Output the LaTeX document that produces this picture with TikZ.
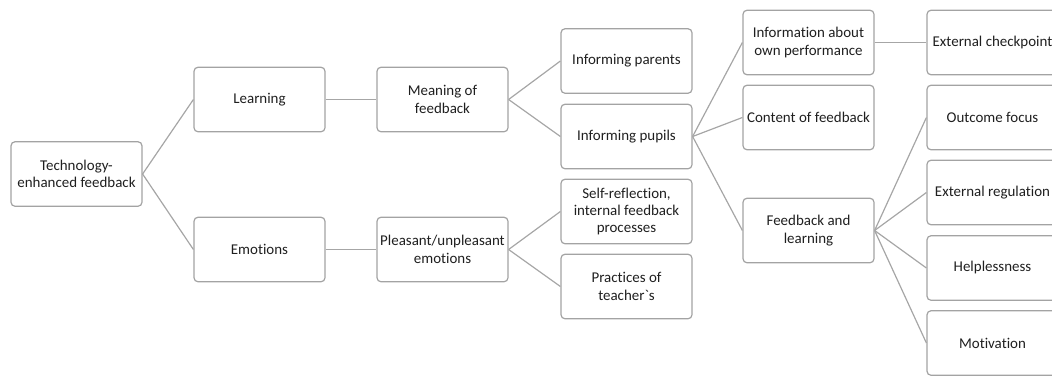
\documentclass[tikz,border=0pt]{standalone}
\usepackage{fontspec}
\setmainfont{Carlito}[Ligatures={NoCommon}]
\definecolor{boxline}{HTML}{A3A3A3}
\definecolor{linkline}{HTML}{A6A6A6}
\definecolor{txt}{HTML}{1F1F1F}
\begin{document}
\begin{tikzpicture}[x=1bp,y=-1bp,
  item/.style={draw=boxline, line width=1.2bp, fill=white, rounded corners=4bp,
    minimum width=131bp, minimum height=64.5bp, inner sep=0pt, align=center,
    text=txt, font=\fontsize{15}{17.5}\selectfont},
  link/.style={draw=linkline, line width=1.2bp}]
  \useasboundingbox (0,0) rectangle (1052,376);
  \clip (0,0) rectangle (1052,376);

  % level 0
  \node[item] (root) at (76.5,174) {Technology-\\enhanced feedback};
  % level 1
  \node[item] (learn) at (259.5,99.5) {Learning};
  \node[item] (emo) at (259.5,249.5) {Emotions};
  % level 2
  \node[item] (mean) at (442.5,99.5) {Meaning of\\feedback};
  \node[item] (pleas) at (442.5,249.5) {Pleasant/unpleasant\\emotions};
  % level 3
  \node[item] (parents) at (626.5,61) {Informing parents};
  \node[item] (pupils) at (626.5,136.5) {Informing pupils};
  \node[item] (selfref) at (626.5,211.5) {Self-reflection,\\internal feedback\\processes};
  \node[item] (practice) at (626.5,286.5) {Practices of\\teacher\textasciigrave s};
  % level 4
  \node[item] (perf) at (808.5,42.5) {Information about\\own performance};
  \node[item] (content) at (808.5,117.5) {Content of feedback};
  \node[item] (fbl) at (808.5,230.5) {Feedback and\\learning};
  % level 5
  \node[item] (check) at (992.5,42.5) {External checkpoint};
  \node[item] (outcome) at (992.5,117.5) {Outcome focus};
  \node[item] (extreg) at (992.5,192.5) {External regulation};
  \node[item] (help) at (992.5,268) {Helplessness};
  \node[item] (motiv) at (992.5,343) {Motivation};

  % connectors
  \draw[link] (root.east) -- (learn.west);
  \draw[link] (root.east) -- (emo.west);
  \draw[link] (learn.east) -- (mean.west);
  \draw[link] (emo.east) -- (pleas.west);
  \draw[link] (mean.east) -- (parents.west);
  \draw[link] (mean.east) -- (pupils.west);
  \draw[link] (pleas.east) -- (selfref.west);
  \draw[link] (pleas.east) -- (practice.west);
  \draw[link] (pupils.east) -- (perf.west);
  \draw[link] (pupils.east) -- (content.west);
  \draw[link] (pupils.east) -- (fbl.west);
  \draw[link] (perf.east) -- (check.west);
  \draw[link] (fbl.east) -- (outcome.west);
  \draw[link] (fbl.east) -- (extreg.west);
  \draw[link] (fbl.east) -- (help.west);
  \draw[link] (fbl.east) -- (motiv.west);
\end{tikzpicture}
\end{document}
